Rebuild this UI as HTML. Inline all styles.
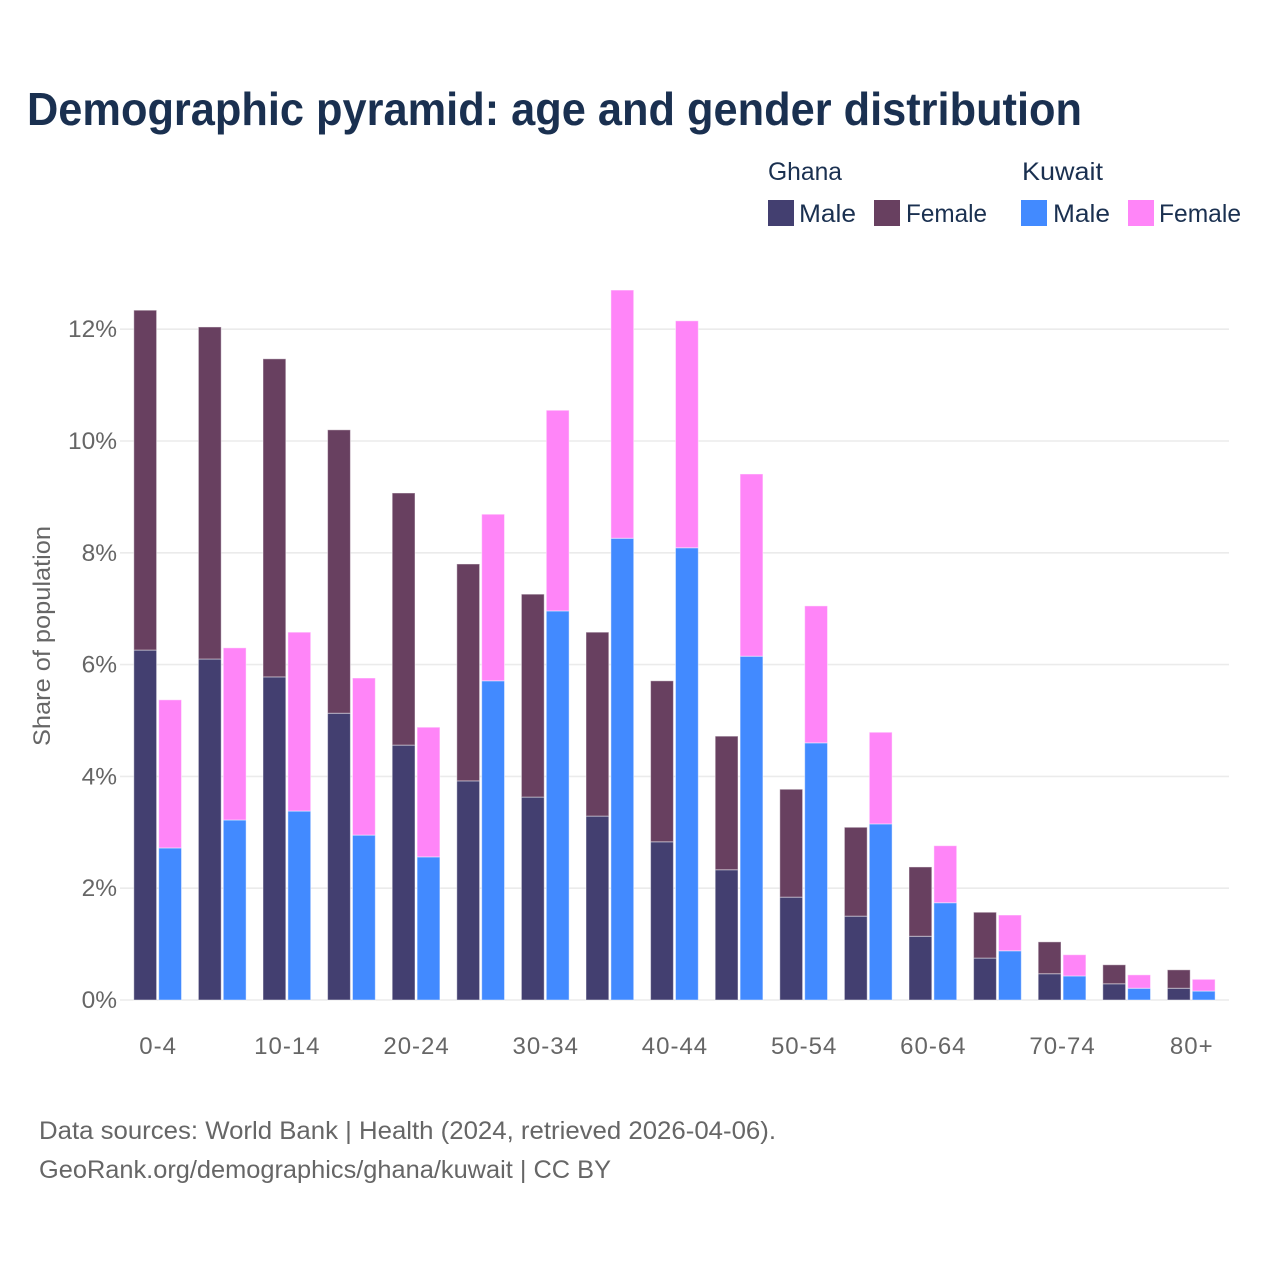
<!DOCTYPE html>
<html lang="en">
<head>
<meta charset="utf-8">
<title>Demographic pyramid: age and gender distribution</title>
<style>
html,body{margin:0;padding:0;background:#fff;}
svg{display:block;font-family:"Liberation Sans",sans-serif;}
</style>
</head>
<body>
<svg id="chart" width="1280" height="1280" viewBox="0 0 1280 1280" xmlns="http://www.w3.org/2000/svg">
<rect x="0" y="0" width="1280" height="1280" fill="#ffffff"/>
<text x="27" y="125" font-size="46" font-weight="700" fill="#1a3050" textLength="1055" lengthAdjust="spacingAndGlyphs">Demographic pyramid: age and gender distribution</text>

<g font-size="25" fill="#1a3050">
<text x="768" y="180" textLength="74" lengthAdjust="spacingAndGlyphs">Ghana</text>
<text x="1022" y="180" textLength="81" lengthAdjust="spacingAndGlyphs">Kuwait</text>
<rect x="768" y="200" width="26" height="26" fill="#433f70"/>
<text x="799" y="222" textLength="57" lengthAdjust="spacingAndGlyphs">Male</text>
<rect x="874" y="200" width="26" height="26" fill="#684060"/>
<text x="906" y="222" textLength="81" lengthAdjust="spacingAndGlyphs">Female</text>
<rect x="1021" y="200" width="26" height="26" fill="#428aff"/>
<text x="1053" y="222" textLength="57" lengthAdjust="spacingAndGlyphs">Male</text>
<rect x="1128" y="200" width="26" height="26" fill="#ff85f8"/>
<text x="1159" y="222" textLength="82" lengthAdjust="spacingAndGlyphs">Female</text>
</g>

<g id="grid"></g>
<g id="bars"></g>
<g id="yticks"></g>
<g id="xticks"></g>

<text transform="translate(50,746) rotate(-90)" x="0" y="0" font-size="24" fill="#666666" textLength="220" lengthAdjust="spacingAndGlyphs">Share of population</text>

<text x="39" y="1139" font-size="25" fill="#666666" textLength="737" lengthAdjust="spacingAndGlyphs">Data sources: World Bank | Health (2024, retrieved 2026-04-06).</text>
<text x="39" y="1178" font-size="25" fill="#666666" textLength="572" lengthAdjust="spacingAndGlyphs">GeoRank.org/demographics/ghana/kuwait | CC BY</text>
</svg>

<script>
const categories = ["0-4","5-9","10-14","15-19","20-24","25-29","30-34","35-39","40-44","45-49","50-54","55-59","60-64","65-69","70-74","75-79","80+"];
const ghanaMale = [6.26,6.10,5.78,5.13,4.56,3.92,3.63,3.29,2.83,2.33,1.84,1.50,1.14,0.75,0.47,0.29,0.21];
const ghanaFemale = [6.08,5.94,5.69,5.07,4.51,3.88,3.63,3.29,2.88,2.39,1.93,1.59,1.24,0.82,0.57,0.34,0.33];
const kuwaitMale = [2.72,3.22,3.38,2.95,2.56,5.71,6.96,8.26,8.09,6.15,4.60,3.15,1.74,0.88,0.43,0.21,0.16];
const kuwaitFemale = [2.65,3.08,3.20,2.81,2.32,2.98,3.59,4.44,4.06,3.26,2.45,1.64,1.02,0.64,0.38,0.24,0.21];
const yTicks = [0,2,4,6,8,10,12];
const xTickLabels = ["0-4","10-14","20-24","30-34","40-44","50-54","60-64","70-74","80+"];

const NS = "http://www.w3.org/2000/svg";
const yScale = v => 1000 - v * 55.9;
const xScale = i => 133.8 + i * 64.6;
const barWidth = 22.8;
const barGap = 24.9;

const grid = document.getElementById("grid");
const yTickGroup = document.getElementById("yticks");
yTicks.forEach(t => {
  const line = document.createElementNS(NS, "line");
  
  
  line.setAttribute("x1", 120);
  line.setAttribute("x2", 1229);
  line.setAttribute("y1", yScale(t));
  line.setAttribute("y2", yScale(t));
  line.setAttribute("stroke", "#ebebeb");
  line.setAttribute("stroke-width", 1.6);
  grid.appendChild(line);

  const label = document.createElementNS(NS, "text");
  
  
  label.setAttribute("x", 117);
  label.setAttribute("y", yScale(t) + 8);
  label.setAttribute("text-anchor", "end");
  label.setAttribute("font-size", 24.5);
  label.setAttribute("fill", "#666666");
  label.textContent = t + "%";
  yTickGroup.appendChild(label);
});

const barsGroup = document.getElementById("bars");
function drawBar(x, base, value, fill, name) {
  const r = document.createElementNS(NS, "rect");
  
  
  r.setAttribute("x", x);
  r.setAttribute("y", yScale(base + value));
  r.setAttribute("width", barWidth);
  r.setAttribute("height", yScale(base) - yScale(base + value));
  r.setAttribute("fill", fill);
  r.setAttribute("stroke", "#ffffff");
  r.setAttribute("stroke-opacity", "0.45");
  r.setAttribute("stroke-width", "1");
  barsGroup.appendChild(r);
}
categories.forEach((c, i) => {
  const x = xScale(i);
  drawBar(x, 0, ghanaMale[i], "#433f70", "bar-ghana-male-" + c);
  drawBar(x, ghanaMale[i], ghanaFemale[i], "#684060", "bar-ghana-female-" + c);
  drawBar(x + barGap, 0, kuwaitMale[i], "#428aff", "bar-kuwait-male-" + c);
  drawBar(x + barGap, kuwaitMale[i], kuwaitFemale[i], "#ff85f8", "bar-kuwait-female-" + c);
});

const xTickGroup = document.getElementById("xticks");
xTickLabels.forEach(name => {
  const i = categories.indexOf(name);
  const label = document.createElementNS(NS, "text");
  
  
  label.setAttribute("x", xScale(i) + (barGap + barWidth) / 2 + 0.5);
  label.setAttribute("y", 1054);
  label.setAttribute("text-anchor", "middle");
  label.setAttribute("font-size", 24);
  label.setAttribute("letter-spacing", "1");
  label.setAttribute("fill", "#666666");
  label.textContent = name;
  xTickGroup.appendChild(label);
});
</script>
</body>
</html>
